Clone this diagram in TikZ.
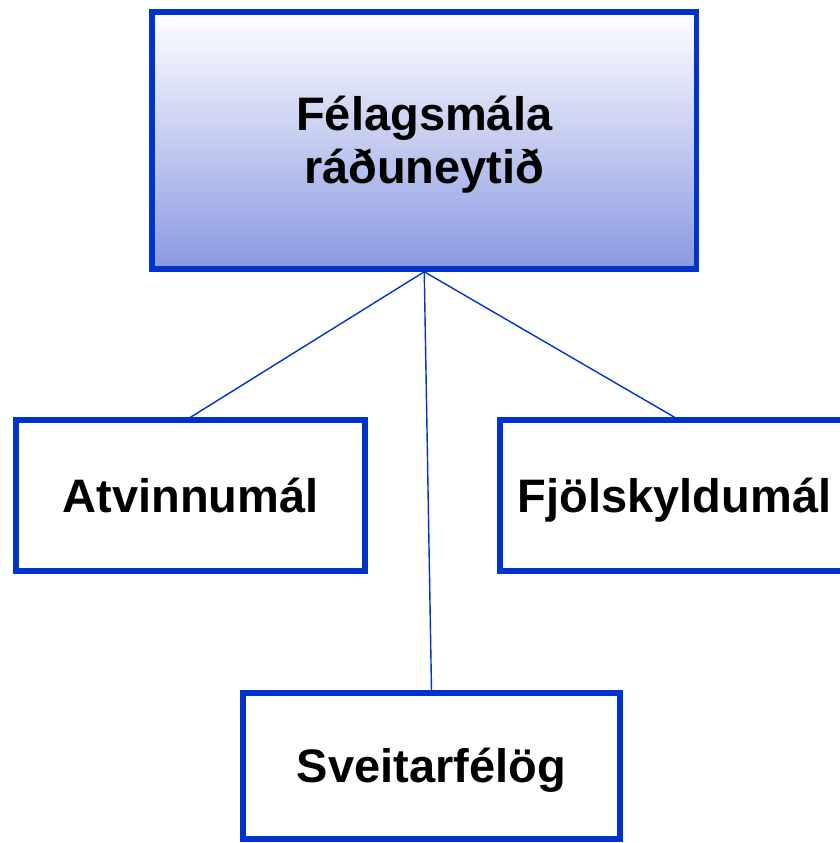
\documentclass[tikz,border=0pt]{standalone}
\usepackage{fontspec}
\setmainfont{Liberation Sans}
\definecolor{rammi}{HTML}{0033CC}
\definecolor{botn}{HTML}{8A99E0}
\definecolor{midja}{HTML}{D6D8F0}
\begin{document}
\begin{tikzpicture}[x=1pt, y=-1pt,
        kassi/.style={draw=rammi, line width=5.5pt, fill=white,
            font=\fontsize{47}{53}\selectfont\bfseries, align=center,
            text height=33.6pt, text depth=0pt},
        yfir/.style={kassi, top color=white, middle color=midja, bottom color=botn,
            text height=86.6pt},
        tenging/.style={draw=rammi, line width=1.4pt}]
        \useasboundingbox (0,0) rectangle (840,843);
        % Ráðuneytið efst
        \node[yfir, minimum width=544.5pt, minimum height=257pt] (rad)
            at (424.25,140.5) {Félagsmála\\ráðuneytið};
        % Undirflokkar
        \node[kassi, minimum width=349pt, minimum height=151pt] (atv)
            at (190.5,495.5) {Atvinnumál};
        \node[kassi, minimum width=349pt, minimum height=151pt] (fjol)
            at (674.5,495.5) {Fjölskyldumál};
        \node[kassi, minimum width=377pt, minimum height=146pt] (sveit)
            at (431.5,766) {Sveitarfélög};
        % Línur
        \foreach \nafn in {atv,sveit,fjol}
        \draw[tenging] (rad.south) -- (\nafn.north);
    \end{tikzpicture}
\end{document}
